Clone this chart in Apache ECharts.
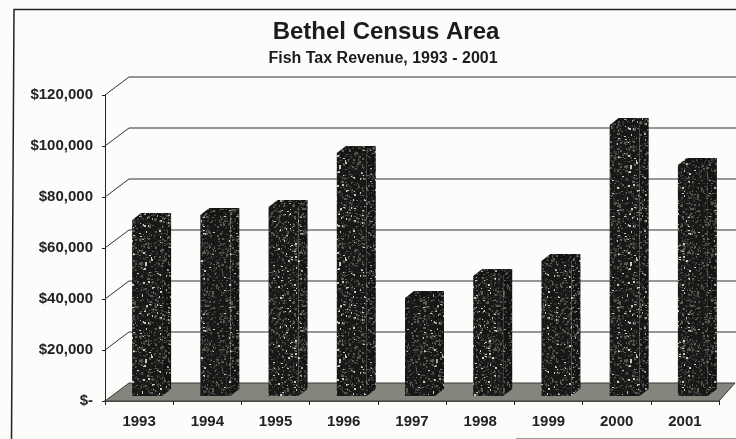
<!DOCTYPE html>
<html>
<head>
<meta charset="utf-8">
<style>
html,body{margin:0;padding:0;background:#fcfcfb;}
#main{width:736px;height:439px;filter:blur(0.6px);}
</style>
<script src="https://cdn.jsdelivr.net/npm/echarts@6/dist/echarts.min.js"></script>
</head>
<body>
<div id="main"></div>
<script>
var years=['1993','1994','1995','1996','1997','1998','1999','2000','2001'];
var revenue=[71800,73700,76900,98000,41200,49800,55700,109000,93300];
var yTicks=[0,20000,40000,60000,80000,100000,120000];

var depthX=24,depthY=-18;   //back wall offset

//speckled fill of the bars
function speckle(base,dot){
	var c=document.createElement('canvas');
	c.width=c.height=97;
	var g=c.getContext('2d');
	g.fillStyle=base;
	g.fillRect(0,0,97,97);
	var a=17,b=211;
	for(var i=0;i<1300;i++){
		a=(a*137+59)%1009;
		b=(b*211+83)%2003;
		g.fillStyle=i%9==0?dot:(i%2==1?'#5a5a57':'#363634');
		g.fillRect(a%97,b%97,1+(a+b)%2,1+(a>>2)%2);
	}
	return c;
}
var frontFill={image:speckle('#181817','#c8c8c4'),repeat:'repeat'};
var sideFill={image:speckle('#141413','#a5a5a0'),repeat:'repeat'};

function renderWall(params,api){
	var v=api.value(0);
	var cs=params.coordSys;
	var y=api.coord([0,v])[1];
	var x=cs.x;
	var kids=[];
	if(v==0){
		kids.push({type:'polygon',shape:{points:[[x,y],[x+cs.width,y],[x+cs.width+16,y+depthY],[x+depthX,y+depthY]]},
			style:{fill:'#85857e',stroke:'#3a3a38',lineWidth:1}});
	}else{
		kids.push({type:'line',shape:{x1:x,y1:y,x2:x+depthX,y2:y+depthY},style:{stroke:'#333',lineWidth:1}});
		kids.push({type:'line',shape:{x1:x+depthX,y1:y+depthY,x2:736,y2:y+depthY},style:{stroke:'#333',lineWidth:1.2}});
	}
	return {type:'group',children:kids};
}

function renderBar(params,api){
	var p=api.coord([api.value(0),api.value(1)]);
	var base=api.coord([api.value(0),0]);
	var left=p[0]-7,w=30,side=9,rise=7,lift=5;
	var top=p[1]-lift+rise,bottom=base[1]-lift;
	return {type:'group',children:[
		{type:'polygon',shape:{points:[[left+w,top],[left+w+side,top-rise],[left+w+side,bottom-rise],[left+w,bottom]]},style:{fill:sideFill}},
		{type:'polygon',shape:{points:[[left,top],[left+side,top-rise],[left+w+side,top-rise],[left+w,top]]},style:{fill:sideFill}},
		{type:'rect',shape:{x:left,y:top,width:w,height:bottom-top},style:{fill:frontFill}}
	]};
}

var main=document.getElementById('main');
echarts.init(main).setOption({
	animation:false,
	backgroundColor:'#fcfcfb',
	title:[
		{text:'Bethel Census Area',left:381,top:15,textAlign:'center',
			textStyle:{fontFamily:'Liberation Sans',fontSize:24,fontWeight:'bold',color:'#1c1c1c'}},
		{text:'Fish Tax Revenue, 1993 - 2001',left:378,top:46,textAlign:'center',
			textStyle:{fontFamily:'Liberation Sans',fontSize:16,fontWeight:'bold',color:'#1c1c1c'}}
	],
	grid:{left:105,top:95,right:17,bottom:38},
	xAxis:{
		type:'category',data:years,
		axisLine:{lineStyle:{color:'#222',width:1.5}},
		axisTick:{show:true,length:4,lineStyle:{color:'#222'}},
		axisLabel:{fontFamily:'Liberation Sans',fontSize:15,fontWeight:'bold',color:'#222',margin:13}
	},
	yAxis:{
		type:'value',min:0,max:120000,interval:20000,
		axisLine:{show:true,lineStyle:{color:'#222'}},
		axisTick:{show:true,length:3,lineStyle:{color:'#222'}},
		splitLine:{show:false},
		axisLabel:{fontFamily:'Liberation Sans',fontSize:15,fontWeight:'bold',color:'#222',margin:12,
			formatter:function(v){return v==0?'$-':'$'+v.toLocaleString('en-US');}}
	},
	graphic:[
		{type:'polyline',silent:true,shape:{points:[[11.5,439],[14,9.5],[736,9.5]]},style:{fill:null,stroke:'#222',lineWidth:1.5}},
		{type:'line',silent:true,shape:{x1:516,y1:438.5,x2:736,y2:438.5},style:{stroke:'#999',lineWidth:1}}
	],
	series:[
		{type:'custom',renderItem:renderWall,data:yTicks.map(function(v){return [v];}),encode:{y:0},z:1,silent:true},
		{type:'custom',renderItem:renderBar,data:years.map(function(y,i){return [i,revenue[i]];}),encode:{x:0,y:1},z:2,silent:true}
	]
});
</script>
</body>
</html>
